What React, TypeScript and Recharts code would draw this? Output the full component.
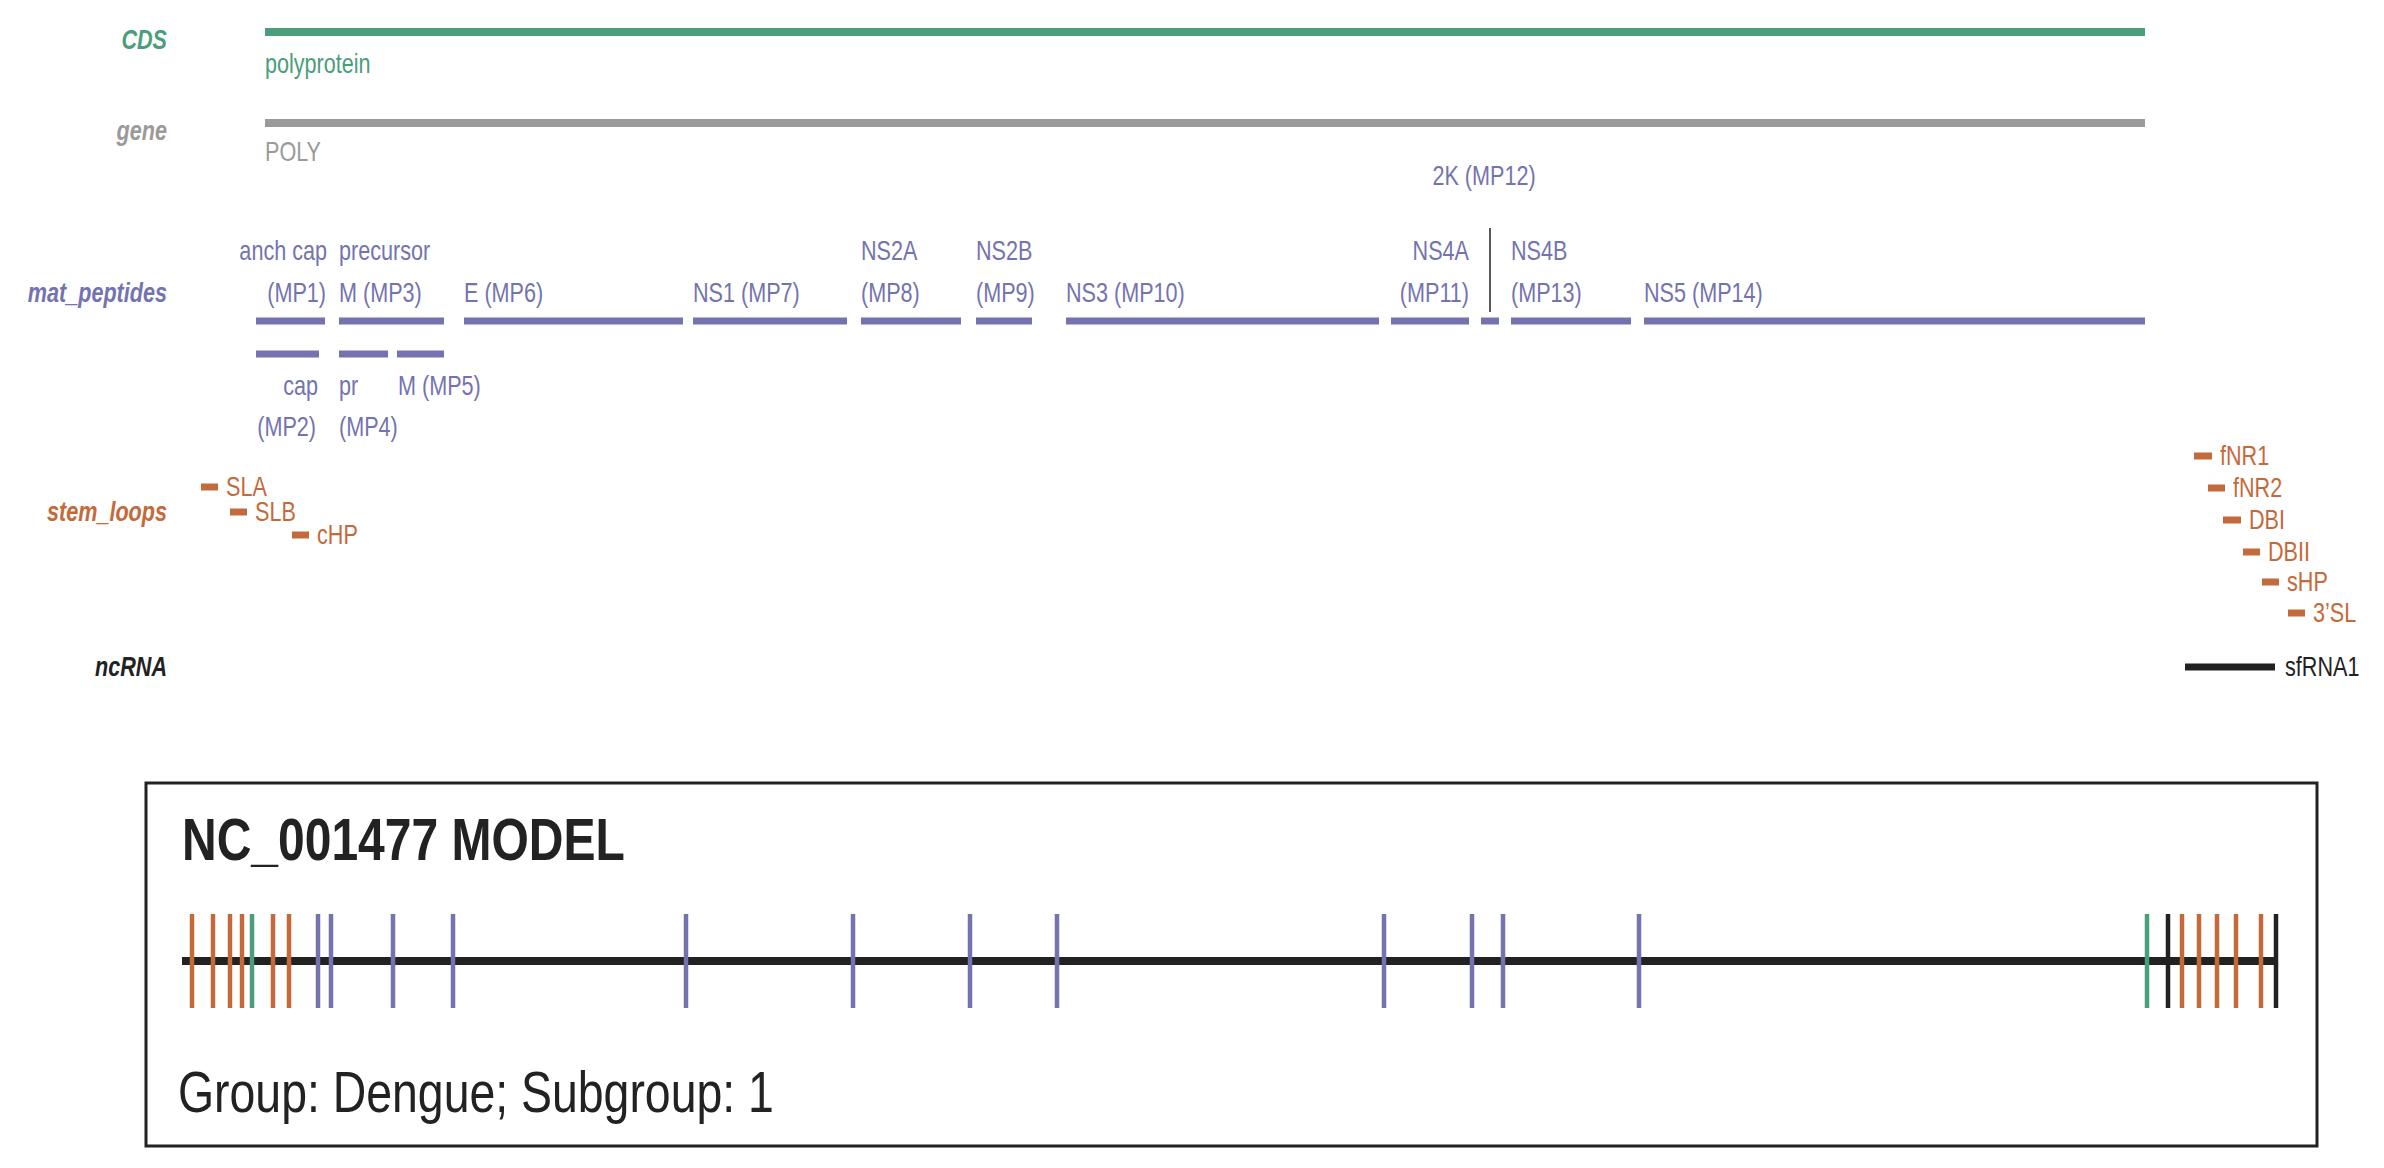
import React from 'react';
import { ComposedChart, XAxis, YAxis, Scatter, ReferenceLine, ReferenceArea } from 'recharts';

// positions are in drawing units along the genome axis (0..2384), rows in 0..1168
const GREEN = '#4a9e7b';
const GRAY = '#9a9a9a';
const PURPLE = '#7473b0';
const ORANGE = '#c4693a';
const BLACK = '#222222';
const FONT = '"Liberation Sans", Arial, sans-serif';
const SQUEEZE = 0.8; // condensed look

const trackNames = ['CDS', 'gene', 'mat_peptides', 'stem_loops', 'ncRNA'];
const trackRows = [40, 131, 293, 512, 667];
const trackColors = [GREEN, GRAY, PURPLE, ORANGE, BLACK];

// CDS & gene
const cdsRange = [265, 2145];
const cdsRow = 32;
const geneRow = 123;

// mat_peptides, upper row
const pepNames = ['MP1', 'MP3', 'MP6', 'MP7', 'MP8', 'MP9', 'MP10', 'MP11', 'MP12', 'MP13', 'MP14'];
const pepStart = [256, 339, 464, 693, 861, 976, 1066, 1391, 1481, 1511, 1644];
const pepEnd = [325, 444, 683, 847, 961, 1032, 1379, 1469, 1499, 1631, 2145];
const pepRow = 321;
// mat_peptides, lower row
const pep2Names = ['MP2', 'MP4', 'MP5'];
const pep2Start = [256, 339, 397];
const pep2End = [319, 388, 444];
const pep2Row = 354;

// peptide labels: text, position, row, anchor
const pepLabelText = ['anch cap', '(MP1)', 'precursor', 'M (MP3)', 'E (MP6)', 'NS1 (MP7)', 'NS2A', '(MP8)', 'NS2B', '(MP9)', 'NS3 (MP10)', 'NS4A', '(MP11)', '2K (MP12)', 'NS4B', '(MP13)', 'NS5 (MP14)', 'cap', '(MP2)', 'pr', '(MP4)', 'M (MP5)'];
const pepLabelPos = [327, 326, 339, 339, 464, 693, 861, 861, 976, 976, 1066, 1469, 1469, 1484, 1511, 1511, 1644, 318, 316, 339, 339, 398];
const pepLabelRow = [251, 293, 251, 293, 293, 293, 251, 293, 251, 293, 293, 251, 293, 176, 251, 293, 293, 386, 427, 386, 427, 386];
const pepLabelAnchor = ['end', 'end', 'start', 'start', 'start', 'start', 'start', 'start', 'start', 'start', 'start', 'end', 'end', 'middle', 'start', 'start', 'start', 'end', 'end', 'start', 'start', 'start'];
const kTick = { x: 1490, top: 228, bottom: 312 };

// stem loops
const loopNames = ['SLA', 'SLB', 'cHP', 'fNR1', 'fNR2', 'DBI', 'DBII', 'sHP', '3’SL'];
const loopStart = [201, 230, 292, 2194, 2208, 2223, 2243, 2262, 2288];
const loopEnd = [218, 247, 309, 2212, 2225, 2241, 2260, 2279, 2305];
const loopRow = [487, 512, 535, 456, 488, 520, 552, 582, 613];

// ncRNA
const ncNames = ['sfRNA1'];
const ncStart = [2185];
const ncEnd = [2275];
const ncRow = 667;

// model box
const boxX = [146, 2317];
const boxY = [783, 1146];
const modelLine = [182, 2278];
const modelRow = 961;
const tickTop = 914;
const tickBottom = 1008;
const tickPos = [192, 213, 230, 242, 252, 273, 289, 318, 331, 393, 453, 686, 853, 970, 1057, 1384, 1472, 1503, 1639, 2147, 2168, 2182, 2199, 2217, 2236, 2261, 2276];
const tickKind = ['s', 's', 's', 's', 'c', 's', 's', 'p', 'p', 'p', 'p', 'p', 'p', 'p', 'p', 'p', 'p', 'p', 'p', 'c', 'n', 's', 's', 's', 's', 's', 'n'];
const kindColor: Record<string, string> = { s: ORANGE, c: GREEN, p: PURPLE, n: BLACK };

type Label = { x: number; y: number; text: string; color: string; anchor: string; size: number; weight?: string; italic?: boolean };

const labels: Label[] = [
  ...trackNames.map((t, i) => ({ x: 167, y: trackRows[i], text: t, color: trackColors[i], anchor: 'end', size: 27, weight: 'bold', italic: true })),
  { x: 265, y: 64, text: 'polyprotein', color: GREEN, anchor: 'start', size: 27 },
  { x: 265, y: 152, text: 'POLY', color: GRAY, anchor: 'start', size: 27 },
  ...pepLabelText.map((t, i) => ({ x: pepLabelPos[i], y: pepLabelRow[i], text: t, color: PURPLE, anchor: pepLabelAnchor[i], size: 27 })),
  ...loopNames.map((t, i) => ({ x: loopEnd[i] + 8, y: loopRow[i], text: t, color: ORANGE, anchor: 'start', size: 27 })),
  ...ncNames.map((t, i) => ({ x: ncEnd[i] + 10, y: ncRow, text: t, color: BLACK, anchor: 'start', size: 27 })),
  { x: 182, y: 840, text: 'NC_001477 MODEL', color: BLACK, anchor: 'start', size: 60, weight: 'bold' },
  { x: 178, y: 1092, text: 'Group: Dengue; Subgroup: 1', color: BLACK, anchor: 'start', size: 58 },
];

const LabelShape = (props: any) => {
  const p: Label = props.payload;
  return (
    <text x={0} y={0} transform={`translate(${props.cx},${props.cy}) scale(${SQUEEZE},1)`} fill={p.color}
      textAnchor={p.anchor as any} dominantBaseline="central"
      fontFamily={FONT} fontSize={p.size} fontWeight={p.weight || 'normal'} fontStyle={p.italic ? 'italic' : 'normal'}>
      {p.text}
    </text>
  );
};

const seg = (x1: number, x2: number, y: number, color: string, w: number, key: string) => (
  <ReferenceLine key={key} segment={[{ x: x1, y }, { x: x2, y }]} stroke={color} strokeWidth={w} ifOverflow="visible" />
);

const App: React.FC = () => (
  <div style={{ margin: -8, background: '#fff' }}>
    <ComposedChart width={2384} height={1168} margin={{ top: 0, right: 0, bottom: 0, left: 0 }}>
      <XAxis type="number" dataKey="x" domain={[0, 2384]} hide />
      <YAxis type="number" dataKey="y" domain={[0, 1168]} reversed hide />
      {seg(cdsRange[0], cdsRange[1], cdsRow, GREEN, 8, 'cds')}
      {seg(cdsRange[0], cdsRange[1], geneRow, GRAY, 8, 'gene')}
      {pepNames.map((n, i) => seg(pepStart[i], pepEnd[i], pepRow, PURPLE, 7, n))}
      {pep2Names.map((n, i) => seg(pep2Start[i], pep2End[i], pep2Row, PURPLE, 7, n))}
      <ReferenceLine segment={[{ x: kTick.x, y: kTick.top }, { x: kTick.x, y: kTick.bottom }]} stroke={BLACK} strokeWidth={1.5} />
      {loopNames.map((n, i) => seg(loopStart[i], loopEnd[i], loopRow[i], ORANGE, 7, n))}
      {ncNames.map((n, i) => seg(ncStart[i], ncEnd[i], ncRow, BLACK, 7, n))}
      <ReferenceArea x1={boxX[0]} x2={boxX[1]} y1={boxY[0]} y2={boxY[1]} fill="none" stroke={BLACK} strokeWidth={3} fillOpacity={0} />
      {seg(modelLine[0], modelLine[1], modelRow, BLACK, 8, 'model')}
      {tickPos.map((x, i) => (
        <ReferenceLine key={'t' + i} segment={[{ x, y: tickTop }, { x, y: tickBottom }]} stroke={kindColor[tickKind[i]]} strokeWidth={4.5} />
      ))}
      <Scatter data={labels} dataKey="y" shape={<LabelShape />} isAnimationActive={false} />
    </ComposedChart>
  </div>
);

export default App;
